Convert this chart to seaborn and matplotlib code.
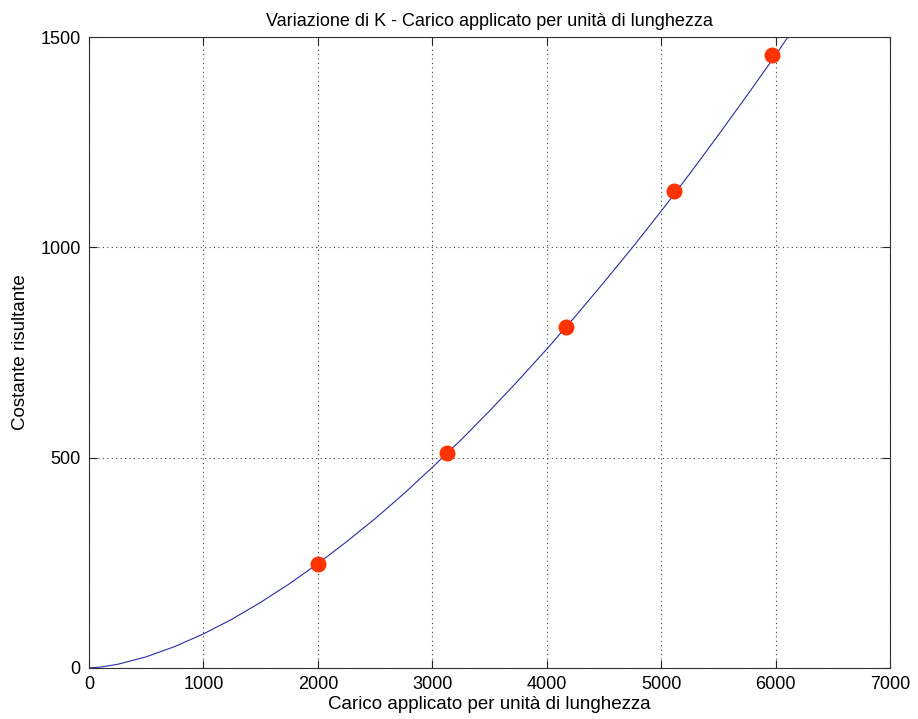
import numpy as np
import pandas as pd
import matplotlib
matplotlib.use('Agg')
import matplotlib.pyplot as plt
import seaborn as sns

# Measured points
carico = [2000, 3130, 4165, 5110, 5965]
costante = [248, 511, 810, 1134, 1457]

# Fitted curve
curve_x = [0, 100, 250, 500, 750, 1000, 1250, 1500, 1750, 2000, 2250, 2500,
           2750, 3000, 3250, 3500, 3750, 4000, 4250, 4500, 4750, 5000,
           5250, 5500, 5750, 6000, 6100, 6200]
curve_y = [0, 2, 8.7, 26.5, 51, 81, 116, 156, 200, 248, 300, 355,
           414, 477, 542, 611, 683, 758, 836, 917, 1000, 1086,
           1175, 1267, 1361, 1457, 1497, 1540]

df_pts = pd.DataFrame({'x': carico, 'y': costante})
df_curve = pd.DataFrame({'x': curve_x, 'y': curve_y})

sns.set_style('ticks')
plt.rcParams['font.family'] = ['Liberation Sans', 'DejaVu Sans']
plt.rcParams['text.color'] = 'black'
plt.rcParams['axes.labelcolor'] = 'black'

fig = plt.figure(figsize=(9.18, 7.19), dpi=100)
ax = fig.add_axes([0.097, 0.071, 0.8725, 0.8775])

sns.lineplot(data=df_curve, x='x', y='y', ax=ax, color='#2b2ba8',
             linewidth=0.8, sort=False)
ax.plot(df_pts['x'], df_pts['y'], 'o', color='#ff3300', markersize=11.5,
        markeredgewidth=0, zorder=3)

ax.set_xlim(0, 7000)
ax.set_ylim(0, 1500)
ax.set_xticks(range(0, 7001, 1000))
ax.set_yticks([0, 500, 1000, 1500])
ax.grid(True, linestyle=(0, (1, 3)), color='#444444', linewidth=0.8)

for s in ax.spines.values():
    s.set_visible(True)
    s.set_color('#333333')
    s.set_linewidth(0.8)
ax.tick_params(direction='in', top=True, right=True, length=6,
               labelsize=13, width=0.8, pad=6, labelcolor='black')

ax.set_title('Variazione di K - Carico applicato per unità di lunghezza',
             fontsize=13, pad=8, color='black')
ax.set_xlabel('Carico applicato per unità di lunghezza', fontsize=13.5, labelpad=2)
ax.set_ylabel('Costante risultante', fontsize=13.5, labelpad=8)

fig.savefig('out.png', dpi=100)
